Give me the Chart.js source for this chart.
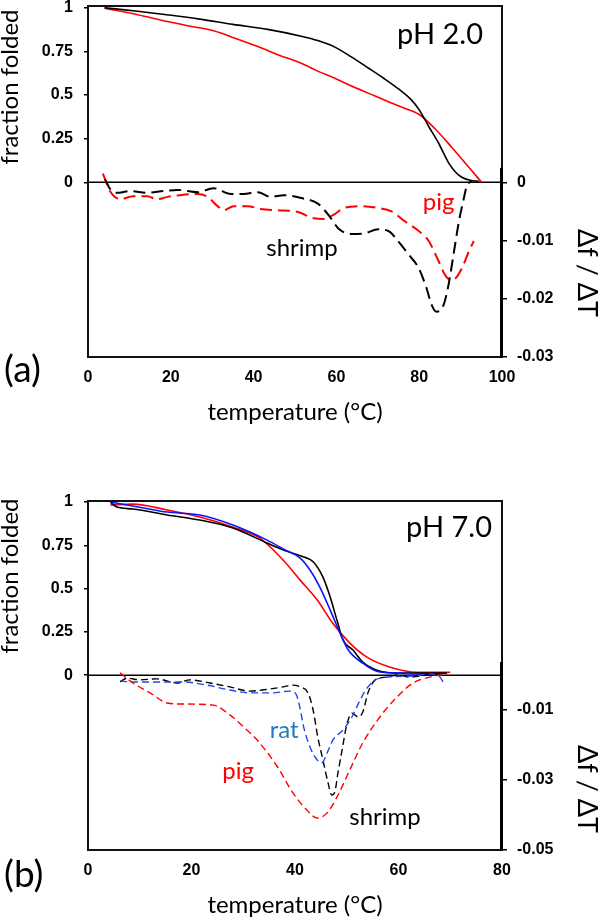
<!DOCTYPE html>
<html><head><meta charset="utf-8">
<script src="https://cdn.jsdelivr.net/npm/chart.js@4.4.0/dist/chart.umd.min.js"></script>
<style>
html,body{margin:0;padding:0;background:#fff;}
#wrap{position:relative;width:600px;height:917px;overflow:hidden;}
canvas{position:absolute;left:0;}
</style></head><body>
<div id="wrap">
<canvas id="ca" width="600" height="458" style="top:0"></canvas>
<canvas id="cb" width="600" height="459" style="top:458px"></canvas>
</div>
<script>
// ---------- Panel (a): pH 2.0 ----------
const xTicksA = [0, 20, 40, 60, 80, 100];
const fracTicks = [0, 0.25, 0.5, 0.75, 1];
const derivTicksA = [0, -0.01, -0.02, -0.03];
const derivTickLabelsA = ['0', '-0.01', '-0.02', '-0.03'];

const tA_shrimpFrac = [4, 12, 19, 27, 35, 43.4, 51.5, 55.5, 59.5, 63.5, 67.7, 71.5, 75, 78, 80, 82.3, 84.7, 87.1, 88.8, 90.3, 92.3, 94.4];
const fA_shrimp     = [1.0, 0.98, 0.96, 0.935, 0.905, 0.876, 0.837, 0.812, 0.776, 0.72, 0.655, 0.595, 0.535, 0.475, 0.415, 0.32, 0.224, 0.112, 0.058, 0.029, 0.012, 0.006];

const tA_pigFrac = [4, 12, 19.2, 25, 30.3, 35.5, 41, 46, 51.5, 55.5, 59.5, 63.5, 67.7, 71.7, 75.7, 79.9, 83.7, 87.9, 92, 95.1];
const fA_pig     = [0.998, 0.96, 0.921, 0.893, 0.868, 0.826, 0.778, 0.73, 0.682, 0.637, 0.598, 0.553, 0.511, 0.47, 0.431, 0.39, 0.31, 0.2, 0.086, 0.0];

const tA_shrimpDer = [4.1, 5.3, 7, 10.2, 14.3, 18.2, 21.6, 26.5, 30.3, 34.5, 37.6, 41, 44.2, 47.3, 51.5, 55.6, 58.7, 60.4, 63.6, 66.7, 70.1, 72.6, 75, 77.4, 79.9, 81.8, 83, 84.2, 85.9, 87.1, 88.3, 89.6, 90.8, 91.5, 92.7];
const dA_shrimp    = [0.0007, -0.0010, -0.0017, -0.0014, -0.0017, -0.0014, -0.0012, -0.0016, -0.0009, -0.0019, -0.0019, -0.0016, -0.0024, -0.0021, -0.0026, -0.0036, -0.0061, -0.0078, -0.0088, -0.0087, -0.0080, -0.0083, -0.0101, -0.0123, -0.0147, -0.0182, -0.0210, -0.0222, -0.0210, -0.0175, -0.0123, -0.0066, -0.0026, -0.0005, 0.0003];

const tA_pigDer = [3.6, 5.3, 7.8, 10.9, 14.3, 16.7, 19.2, 22.3, 26.5, 28.9, 31.3, 32.8, 35.2, 38.6, 41.7, 45.9, 50.7, 54.6, 57, 59.5, 61.9, 66, 70.1, 73.3, 76.5, 79.9, 82.3, 84.7, 86.2, 87.4, 88.6, 90.3, 92, 93.2];
const dA_pig    = [0.0016, -0.0014, -0.0028, -0.0023, -0.0023, -0.0028, -0.0024, -0.0021, -0.0019, -0.0024, -0.0040, -0.0047, -0.0040, -0.0040, -0.0045, -0.0047, -0.0050, -0.0061, -0.0062, -0.0054, -0.0043, -0.0040, -0.0043, -0.0049, -0.0066, -0.0083, -0.0100, -0.0135, -0.0158, -0.0166, -0.0165, -0.0147, -0.0118, -0.0100];

// ---------- Panel (b): pH 7.0 ----------
const xTicksB = [0, 20, 40, 60, 80];
const derivTicksB = [-0.01, -0.03, -0.05];
const derivTickLabelsB = ['-0.01', '-0.03', '-0.05'];

const tB_shrimpFrac = [4.3, 5.6, 8.7, 15.3, 21.6, 28, 34.6, 38, 41, 43.5, 45.4, 46.8, 48.1, 49.3, 51.2, 53.1, 55.8, 60.3, 66.7, 69.4];
const fB_shrimp     = [1.0, 0.971, 0.96, 0.925, 0.896, 0.85, 0.763, 0.72, 0.69, 0.655, 0.566, 0.451, 0.318, 0.202, 0.145, 0.075, 0.029, 0.012, 0.012, 0.012];

const tB_ratFrac = [4.3, 10, 15.3, 21.6, 28, 34.6, 38, 41, 42.9, 44.8, 46.8, 48.7, 50.3, 53.1, 55.8, 60.3, 68];
const fB_rat     = [1.0, 0.97, 0.942, 0.925, 0.867, 0.78, 0.725, 0.676, 0.607, 0.509, 0.376, 0.243, 0.145, 0.069, 0.023, 0.012, 0.0];

const tB_pigFrac = [4.3, 8.7, 15.3, 21.6, 28, 33.2, 37.7, 41, 44.3, 47.3, 50.6, 53.9, 58.4, 63.6, 70];
const fB_pig     = [0.983, 0.988, 0.954, 0.913, 0.855, 0.792, 0.665, 0.549, 0.434, 0.30, 0.185, 0.104, 0.046, 0.017, 0.017];

const tB_shrimpDer = [6.2, 7.5, 10, 13.3, 17.2, 19.7, 23.6, 27.4, 31.3, 35.2, 37.7, 39.4, 41, 42.5, 43.5, 44.4, 45.4, 46.4, 47.1, 47.7, 48.3, 49.1, 50, 51, 52.2, 53.1, 54.1, 55.5, 57.8, 60, 62.2, 65.5, 68];
const dB_shrimp    = [-0.0020, -0.0009, -0.0014, -0.0011, -0.0023, -0.0014, -0.0023, -0.0034, -0.0046, -0.0040, -0.0034, -0.0029, -0.0034, -0.0051, -0.0100, -0.0177, -0.0243, -0.0309, -0.0343, -0.0334, -0.0280, -0.0214, -0.0143, -0.0109, -0.0120, -0.0106, -0.0051, -0.0014, -0.0006, 0.0, -0.0006, 0.0, 0.0003];

const tB_ratDer = [6.2, 8.7, 13.3, 18.4, 23, 27.4, 31.3, 35.7, 39, 40.2, 40.9, 41.7, 42.9, 44.3, 45.2, 46.2, 47.3, 49.3, 51, 52.6, 54.1, 56.4, 62.8, 66, 68, 68.6];
const dB_rat    = [-0.0017, -0.0020, -0.0020, -0.0020, -0.0029, -0.0043, -0.0051, -0.0051, -0.0046, -0.0055, -0.0090, -0.0150, -0.0206, -0.0243, -0.0251, -0.0223, -0.0186, -0.0157, -0.0120, -0.0071, -0.0034, -0.0009, -0.0003, 0.0003, -0.0006, -0.0020];

const tB_pigDer = [6.2, 8.7, 12, 15.3, 18.4, 24.2, 27.4, 30.7, 32.7, 36.5, 39.6, 42.3, 44.3, 46.2, 48.1, 50.6, 53.1, 56.4, 59.7, 62.8, 66.1, 69.4];
const dB_pig    = [0.0006, -0.0023, -0.0051, -0.0080, -0.0083, -0.0086, -0.0114, -0.0157, -0.0186, -0.0260, -0.0337, -0.0386, -0.0409, -0.0394, -0.0349, -0.0271, -0.0194, -0.0120, -0.0063, -0.0023, -0.0006, 0.0003];

// ---------- helpers ----------
const pts = (xs, ys) => xs.map((x, i) => ({x: x, y: ys[i]}));
const RED = '#ff0000', BLACK = '#000000', BLUE = '#0a14ff', BLUE_D = '#2445e6', BLUE_T = '#1f78c8';
const tickFont = {family: 'Liberation Sans', size: 16, weight: 'bold'};
const LABEL_FAMILY = 'Lato, "Noto Sans", sans-serif';

function ds(data, color, axis, dash, width) {
  return {data: data, borderColor: color, backgroundColor: color, yAxisID: axis,
    borderWidth: width, borderDash: dash, pointRadius: 0, fill: false,
    cubicInterpolationMode: 'monotone', tension: 0.4};
}

const decor = {
  id: 'decor',
  beforeDatasetsDraw(chart, args, o) {
    const {ctx, chartArea: a, scales} = chart;
    const y0 = scales.y.getPixelForValue(0);
    ctx.save();
    ctx.strokeStyle = '#000'; ctx.lineWidth = 1.5;
    ctx.beginPath(); ctx.moveTo(a.left, y0); ctx.lineTo(a.right, y0); ctx.stroke();
    ctx.restore();
  },
  afterDatasetsDraw(chart, args, o) {
    const {ctx, chartArea: a, scales} = chart;
    ctx.save();
    ctx.strokeStyle = '#111'; ctx.lineWidth = 2;
    ctx.strokeRect(a.left, a.top, a.right - a.left, a.bottom - a.top);
    ctx.lineWidth = 3; ctx.strokeStyle = '#000';
    ctx.beginPath();
    ctx.moveTo(a.right - 0.5, scales.y2.getPixelForValue(o.axisTop));
    ctx.lineTo(a.right - 0.5, a.bottom + 1);
    ctx.stroke();
    // titles
    ctx.fillStyle = '#000';
    ctx.textAlign = 'center'; ctx.textBaseline = 'middle';
    ctx.save();
    ctx.translate(o.yTitleX, o.yTitleY); ctx.rotate(-Math.PI / 2);
    ctx.font = '24px ' + LABEL_FAMILY; ctx.fillText('fraction folded', 0, 0);
    ctx.restore();
    ctx.save();
    ctx.translate(o.y2TitleX, o.y2TitleY); ctx.rotate(Math.PI / 2);
    ctx.font = '27px ' + LABEL_FAMILY; ctx.fillText('\u0394f / \u0394T', 0, 0);
    ctx.restore();
    // panel letter
    ctx.textAlign = 'left'; ctx.textBaseline = 'middle';
    ctx.font = '37px ' + LABEL_FAMILY;
    ctx.fillText(o.panel, 4, a.bottom + o.panelDy);
    // pH label
    ctx.textAlign = 'right'; ctx.textBaseline = 'alphabetic';
    ctx.font = '29px ' + LABEL_FAMILY;
    ctx.fillText(o.ph, a.right - o.phDx, a.top + o.phDy);
    // series labels at data coordinates
    ctx.textAlign = 'center'; ctx.textBaseline = 'middle';
    ctx.font = '24px ' + LABEL_FAMILY;
    o.labels.forEach(l => {
      ctx.fillStyle = l.color;
      ctx.fillText(l.text, scales.x.getPixelForValue(l.x), scales.y2.getPixelForValue(l.y));
    });
    ctx.restore();
  }
};

function makeChart(id, c) {
  return new Chart(document.getElementById(id), {
    type: 'line',
    data: {datasets: c.datasets},
    plugins: [decor],
    options: {
      responsive: false, animation: false, devicePixelRatio: 1,
      layout: {padding: {top: c.padTop, bottom: c.padBottom, left: 0, right: 0}},
      plugins: {legend: {display: false}, tooltip: {enabled: false}, decor: c.decor},
      scales: {
        x: {
          type: 'linear', min: 0, max: c.xTicks[c.xTicks.length - 1],
          afterBuildTicks: s => { s.ticks = c.xTicks.map(v => ({value: v})); },
          grid: {display: false, drawTicks: false}, border: {display: false},
          ticks: {padding: 11, color: '#000', font: tickFont, maxRotation: 0, autoSkip: false,
                  callback: v => String(v)},
          title: {display: true, text: 'temperature (\u00b0C)', color: '#000',
                  font: {family: LABEL_FAMILY, size: 24, lineHeight: 1}, padding: 0},
          afterFit: s => { s.height = 67; s.paddingLeft = 0; s.paddingRight = 0; }
        },
        y: {
          position: 'left', min: c.yMin, max: c.yMax,
          afterBuildTicks: s => { s.ticks = fracTicks.map(v => ({value: v})); },
          grid: {display: true, drawOnChartArea: false, drawTicks: true, tickLength: 4, color: '#000', lineWidth: 1.5},
          border: {display: false},
          ticks: {padding: 11, color: '#000', font: tickFont, autoSkip: false, callback: v => String(v)},
          afterFit: s => { s.width = 88; s.paddingTop = 0; s.paddingBottom = 0; }
        },
        y2: {
          position: 'right', min: c.y2Min, max: c.y2Max,
          afterBuildTicks: s => { s.ticks = c.y2Ticks.map(v => ({value: v})); },
          grid: {display: true, drawOnChartArea: false, drawTicks: true, tickLength: 5, color: '#000', lineWidth: 1.5},
          border: {display: false},
          ticks: {padding: 10, color: '#000', font: tickFont, autoSkip: false,
                  callback: (v, i) => c.y2Labels[i]},
          afterFit: s => { s.width = 98; s.paddingTop = 0; s.paddingBottom = 0; }
        }
      }
    }
  });
}

const dashA = [12, 6], dashB = [7, 4];

makeChart('ca', {
  padTop: 6, padBottom: 34, xTicks: xTicksA,
  yMin: -1.0, yMax: 1.01, y2Min: -0.03, y2Max: 0.0305,
  y2Ticks: derivTicksA, y2Labels: derivTickLabelsA,
  datasets: [
    ds(pts(tA_shrimpDer, dA_shrimp), BLACK, 'y2', dashA, 2),
    ds(pts(tA_pigDer, dA_pig), RED, 'y2', dashA, 2),
    ds(pts(tA_shrimpFrac, fA_shrimp), BLACK, 'y', [], 1.6),
    ds(pts(tA_pigFrac, fA_pig), RED, 'y', [], 1.6)
  ],
  decor: {
    axisTop: 0.0026, yTitleX: 10, yTitleY: 87, y2TitleX: 587, y2TitleY: 273,
    panel: '(a)', panelDy: 13, ph: 'pH 2.0', phDx: 19, phDy: 38,
    labels: [
      {text: 'pig', x: 84.7, y: -0.0033, color: RED},
      {text: 'shrimp', x: 51.7, y: -0.0113, color: BLACK}
    ]
  }
});

makeChart('cb', {
  padTop: 43, padBottom: 0, xTicks: xTicksB,
  yMin: -1.01, yMax: 1.006, y2Min: -0.05, y2Max: 0.0497,
  y2Ticks: derivTicksB, y2Labels: derivTickLabelsB,
  datasets: [
    ds(pts(tB_pigDer, dB_pig), RED, 'y2', dashB, 1.4),
    ds(pts(tB_ratDer, dB_rat), BLUE_D, 'y2', dashB, 1.4),
    ds(pts(tB_shrimpDer, dB_shrimp), BLACK, 'y2', dashB, 1.4),
    ds(pts(tB_ratFrac, fB_rat), BLUE, 'y', [], 1.6),
    ds(pts(tB_shrimpFrac, fB_shrimp), BLACK, 'y', [], 1.6),
    ds(pts(tB_pigFrac, fB_pig), RED, 'y', [], 1.6)
  ],
  decor: {
    axisTop: 0.0037, yTitleX: 10, yTitleY: 118, y2TitleX: 587, y2TitleY: 331,
    panel: '(b)', panelDy: 25, ph: 'pH 7.0', phDx: 10, phDy: 36,
    labels: [
      {text: 'rat', x: 37.9, y: -0.0157, color: BLUE_T},
      {text: 'pig', x: 29, y: -0.0274, color: RED},
      {text: 'shrimp', x: 57.4, y: -0.0406, color: BLACK}
    ]
  }
});
</script>
</body></html>
